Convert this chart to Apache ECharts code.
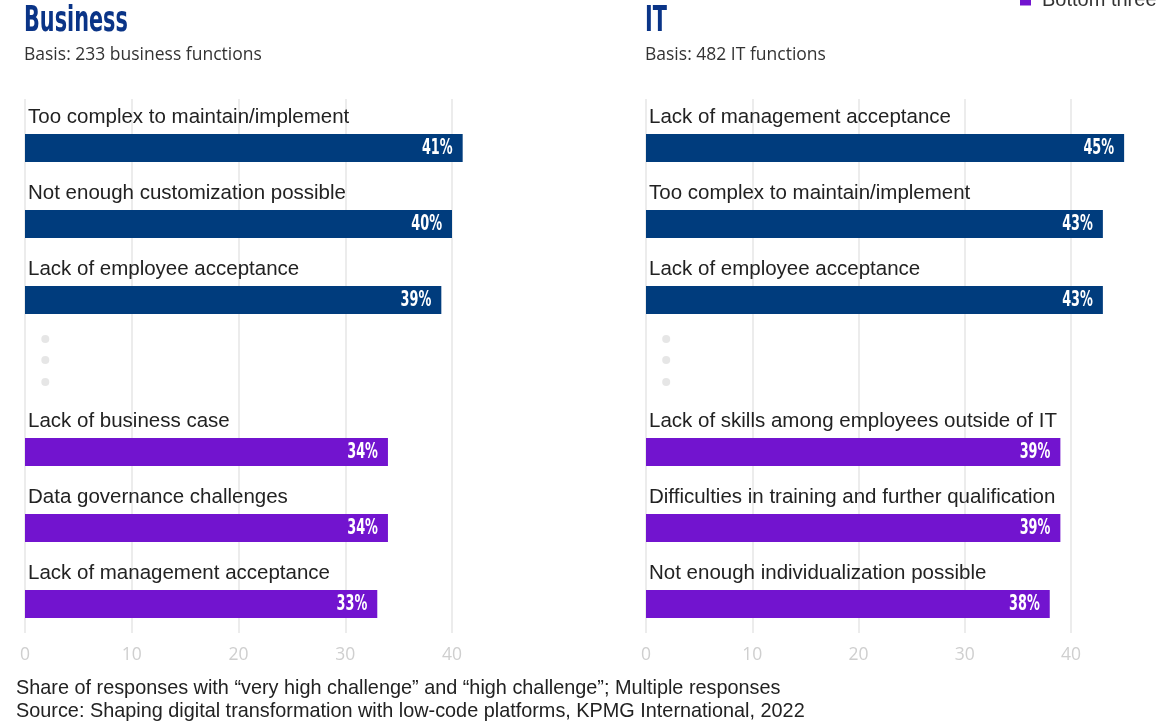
<!DOCTYPE html>
<html>
<head>
<meta charset="utf-8">
<script src="https://cdn.jsdelivr.net/npm/echarts@6/dist/echarts.min.js"></script>
<style>
  html, body { margin: 0; padding: 0; background: #fff; }
  #chart { width: 1175px; height: 722px; }
</style>
</head>
<body>
<div id="chart"></div>
<script>
// Challenges of low-code platforms, business vs IT functions
const businessCategories = [
  'Too complex to maintain/implement',
  'Not enough customization possible',
  'Lack of employee acceptance',
  '',
  'Lack of business case',
  'Data governance challenges',
  'Lack of management acceptance'
];
const businessTop = [41, 40, 39, null, null, null, null];
const businessBottom = [null, null, null, null, 34, 34, 33];

const itCategories = [
  'Lack of management acceptance',
  'Too complex to maintain/implement',
  'Lack of employee acceptance',
  '',
  'Lack of skills among employees outside of IT',
  'Difficulties in training and further qualification',
  'Not enough individualization possible'
];
const itTop = [45, 43, 43, null, null, null, null];
const itBottom = [null, null, null, null, 39, 39, 38];

const axisTicks = [0, 10, 20, 30, 40];

const footerLines = [
  'Share of responses with \u201cvery high challenge\u201d and \u201chigh challenge\u201d; Multiple responses',
  'Source: Shaping digital transformation with low-code platforms, KPMG International, 2022'
];

const NAVY = '#003c7d';
const PURPLE = '#7214cf';
const TITLE_BLUE = '#0a3487';
const COND = "'DejaVu Sans Condensed', 'DejaVu Sans', sans-serif";
const SANS = "'Liberation Sans', Arial, sans-serif";
const BODY = "'Open Sans', 'Noto Sans', sans-serif";

const panels = [
  { left: 25, width: 427, cats: businessCategories, top: businessTop, bottom: businessBottom,
    title: 'Business', basis: 'Basis: 233 business functions' },
  { left: 646, width: 425, cats: itCategories, top: itTop, bottom: itBottom,
    title: 'IT', basis: 'Basis: 482 IT functions' }
];

const grids = [], xAxes = [], yAxes = [], series = [], graphics = [];

panels.forEach((p, i) => {
  // grid for the bars (7 bands of equal height)
  grids.push({ left: p.left, width: p.width, top: 110, bottom: 80 });
  // grid carrying the vertical gridlines and tick labels
  grids.push({ left: p.left, width: p.width, top: 99, bottom: 89 });
  const gBars = i * 2, gLines = i * 2 + 1;

  xAxes.push({
    gridIndex: gBars, type: 'value', min: axisTicks[0], max: axisTicks[axisTicks.length - 1],
    interval: 10, show: false
  });
  xAxes.push({
    gridIndex: gLines, type: 'value', min: axisTicks[0], max: axisTicks[axisTicks.length - 1],
    interval: 10,
    axisLine: { show: false }, axisTick: { show: false },
    splitLine: { show: true, lineStyle: { color: '#e6e6e6', width: 1.5 } },
    axisLabel: { color: '#cfcfcf', fontSize: 17.5, fontFamily: BODY, margin: 13 }
  });
  yAxes.push({ gridIndex: gBars, type: 'category', data: p.cats, inverse: true, show: false });
  yAxes.push({ gridIndex: gLines, type: 'category', data: [''], show: false });

  const full = p.top.map((v, k) => (v != null ? v : p.bottom[k]));

  series.push({
    name: 'Top three', type: 'bar', xAxisIndex: gBars, yAxisIndex: gBars,
    data: p.top, barWidth: 28, barGap: '-100%', clip: false,
    itemStyle: { color: NAVY }, z: 3
  });
  series.push({
    name: 'Bottom three', type: 'bar', xAxisIndex: gBars, yAxisIndex: gBars,
    data: p.bottom, barWidth: 28, barGap: '-100%', clip: false,
    itemStyle: { color: PURPLE }, z: 3
  });
  // category names written above each bar
  series.push({
    name: 'names', type: 'bar', xAxisIndex: gBars, yAxisIndex: gBars,
    data: full, barWidth: 28, barGap: '-100%', clip: false,
    itemStyle: { color: 'rgba(0,0,0,0)' }, silent: true, z: 4,
    label: {
      show: true, position: [3, -17], align: 'left', verticalAlign: 'middle',
      formatter: (d) => p.cats[d.dataIndex],
      color: '#222', fontFamily: SANS, fontSize: 20.5
    }
  });
  // condensed percentage labels at the bar ends
  series.push({
    name: 'values', type: 'custom', xAxisIndex: gBars, yAxisIndex: gBars,
    silent: true, clip: false, z: 5,
    data: full.map((v, k) => (v == null ? null : [v, k])).filter((d) => d),
    renderItem: (params, api) => {
      const v = api.value(0);
      const pt = api.coord([v, api.value(1)]);
      return {
        type: 'text', x: pt[0] - 10, y: pt[1] + 1, scaleX: 0.68,
        style: {
          text: v + '%', align: 'right', verticalAlign: 'middle',
          fill: '#fff', font: 'bold 21px ' + COND
        }
      };
    }
  });
  // ellipsis dots in the gap row
  series.push({
    name: 'gap', type: 'scatter', xAxisIndex: gBars, yAxisIndex: gBars,
    symbolSize: 8, silent: true, z: 2,
    itemStyle: { color: '#e0e0e0' },
    data: [
      { value: [1.9, 3], symbolOffset: [0, -37] },
      { value: [1.9, 3], symbolOffset: [0, -16] },
      { value: [1.9, 3], symbolOffset: [0, 6] }
    ]
  });

  // panel heading and basis line
  graphics.push({
    type: 'text', x: p.left - 1, y: 22, scaleX: 0.66,
    style: { text: p.title, verticalAlign: 'middle', fill: TITLE_BLUE, font: 'bold 35px ' + COND }
  });
  graphics.push({
    type: 'text', x: p.left - 1, y: 55,
    style: { text: p.basis, verticalAlign: 'middle', fill: '#333', font: '17.5px ' + BODY }
  });
});

footerLines.forEach((t, k) => {
  graphics.push({
    type: 'text', x: 16, y: 688 + k * 23, scaleX: 0.945,
    style: { text: t, verticalAlign: 'middle', fill: '#222', font: '21px ' + SANS }
  });
});

const option = {
  backgroundColor: '#fff',
  animation: false,
  legend: {
    data: ['Top three', 'Bottom three'],
    orient: 'vertical', left: 1015, top: -43, itemGap: 8,
    itemWidth: 11, itemHeight: 11, icon: 'rect',
    textStyle: { color: '#333', fontFamily: SANS, fontSize: 20, padding: [0, 0, 0, 6] }
  },
  grid: grids,
  xAxis: xAxes,
  yAxis: yAxes,
  series: series,
  graphic: graphics
};

const chart = echarts.init(document.getElementById('chart'), null, { renderer: 'canvas' });
chart.setOption(option);
</script>
</body>
</html>
